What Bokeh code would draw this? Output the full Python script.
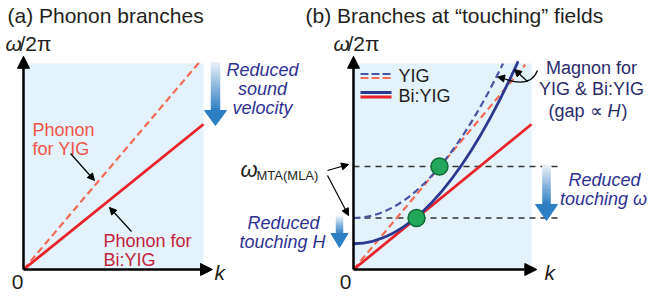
import numpy as np
from bokeh.plotting import figure
from bokeh.models import Range1d, Arrow, NormalHead
from bokeh.core.properties import value
from bokeh.embed import file_html
from bokeh.resources import INLINE

# ---------------- data (schematic units: k and omega normalised to the shaded box) ----------------
material = ["YIG", "Bi:YIG"]
phonon_velocity = [1.03, 0.705]      # slope of the phonon branch omega(k)
phonon_k_end_a = [0.98, 1.0]         # where the phonon lines end in panel (a)
phonon_k_end_b = [0.965, 1.0]        # where the phonon lines end in panel (b)
magnon_gap = [0.25, 0.125]           # magnon omega at k = 0
magnon_k_end = [0.84, 0.925]         # end point of the magnon branch
magnon_w_end = [1.0, 1.01]
touch_k = [0.483, 0.354]             # touching points (green dots)
touch_w = [0.50, 0.25]
guide_k_end = 1.17                   # horizontal dashed guide lines end
box_k = [0.0, 1.0]                   # shaded region
box_w = [0.0, 1.0]
axis_k_tip_a, axis_k_tip_b, axis_w_tip = 1.05, 1.03, 1.035

RED, RED_D = "#e8232b", "#f26b55"
BLUE, BLUE_D = "#2b3990", "#4b55a6"
NAVY = "#2e3192"
INK = "#231f20"
SHADE = "#e3f2fb"
FONT = value("Liberation Sans")

# ---------------- canvas: default ranges are layout pixels; panels use extra ranges ----------------
W, H = 650, 297
X0, Y0 = 0, 0
p = figure(width=W, height=H, x_range=Range1d(X0, X0 + W), y_range=Range1d(Y0 + H, Y0),
           output_backend="svg", toolbar_location=None, x_axis_location=None,
           y_axis_location=None, min_border=0, outline_line_color=None)
p.grid.visible = False

KA0, KA1 = 23, 203     # px of k=0 and k=1, panel (a)
KB0, KB1 = 353, 531    # px of k=0 and k=1, panel (b)
WP0, WP1 = 269, 63     # px of omega=0 and omega=1
p.extra_x_ranges = {
    "ka": Range1d((X0 - KA0) / (KA1 - KA0), (X0 + W - KA0) / (KA1 - KA0)),
    "kb": Range1d((X0 - KB0) / (KB1 - KB0), (X0 + W - KB0) / (KB1 - KB0)),
}
p.extra_y_ranges = {"w": Range1d((Y0 + H - WP0) / (WP1 - WP0), (Y0 - WP0) / (WP1 - WP0))}


def txt(x, y, s, size, color=INK, style="normal", align="left"):
    p.text(x=[x], y=[y], text=[s], text_font=FONT, text_font_size=f"{size}px",
           text_font_style=style, text_color=color, text_align=align, text_baseline="middle")


def arrow(xs, ys, xe, ye, size=7, width=1.2, **kw):
    p.add_layout(Arrow(x_start=xs, y_start=ys, x_end=xe, y_end=ye, line_width=width, line_color="black",
                       end=NormalHead(size=size, fill_color="black", line_color="black", line_width=1), **kw))


def grad_arrow(xc, y_top, y_head, y_tip, shaft_w, head_w, n=16):
    c0 = np.array([228, 237, 248])
    c1 = np.array([50, 128, 198])
    ys = np.linspace(y_top, y_head, n + 1)
    cols = ["#%02x%02x%02x" % tuple(int(v) for v in c0 + (c1 - c0) * (i / (n - 1))) for i in range(n)]
    p.quad(left=xc - shaft_w / 2, right=xc + shaft_w / 2, top=ys[:-1], bottom=ys[1:],
           fill_color=cols, line_color=cols, line_width=0.5)
    p.patch([xc - head_w / 2, xc + head_w / 2, xc], [y_head, y_head, y_tip],
            fill_color="#2c7ec5", line_color="#2c7ec5")


# ================= panel (a) =================
ra = dict(x_range_name="ka", y_range_name="w")
p.quad(left=box_k[0], right=box_k[1], bottom=box_w[0], top=box_w[1], fill_color=SHADE, line_color=None, **ra)
p.line([0, phonon_k_end_a[0]], [0, phonon_velocity[0] * phonon_k_end_a[0]], line_color=RED_D,
       line_width=2.2, line_dash="7 4", **ra)
p.line([0, phonon_k_end_a[1]], [0, phonon_velocity[1] * phonon_k_end_a[1]], line_color=RED,
       line_width=2.8, **ra)
arrow(0, 0, axis_k_tip_a, 0, size=12, width=2.5, **ra)
arrow(0, 0, 0, axis_w_tip, size=12, width=2.5, **ra)

txt(7, 15, "(a) Phonon branches", 21)
txt(5, 43, "ω", 21, style="italic")
txt(19, 43, "/2π", 21)
txt(17, 281, "0", 21, align="center")
txt(214, 272, "k", 21, style="italic")
txt(32, 129, "Phonon", 18, color="#f05549")
txt(32, 148, "for YIG", 18, color="#f05549")
txt(103, 240, "Phonon for", 18, color="#c61f3c")
txt(103, 259, "Bi:YIG", 18, color="#c61f3c")
arrow(70, 153, 94, 180)
arrow(131, 231, 109, 207)
grad_arrow(215, 62, 110, 125, 9, 22)
txt(262, 69, "Reduced", 18, color=NAVY, style="italic", align="center")
txt(262, 88, "sound", 18, color=NAVY, style="italic", align="center")
txt(262, 107, "velocity", 18, color=NAVY, style="italic", align="center")

# ================= panel (b) =================
rb = dict(x_range_name="kb", y_range_name="w")
p.quad(left=box_k[0], right=box_k[1], bottom=box_w[0], top=box_w[1], fill_color=SHADE, line_color=None, **rb)
for w in touch_w:
    p.line([0, guide_k_end], [w, w], line_color="#333333", line_width=1.5, line_dash="6 5", **rb)
p.line([0, phonon_k_end_b[0]], [0, phonon_velocity[0] * phonon_k_end_b[0]], line_color=RED_D,
       line_width=2.2, line_dash="7 4", **rb)
p.line([0, phonon_k_end_b[1]], [0, phonon_velocity[1] * phonon_k_end_b[1]], line_color=RED,
       line_width=2.8, **rb)
# magnon branches: parabolas omega = gap + D k^2 drawn as quadratic Bezier curves
p.quadratic(x0=[0], y0=[magnon_gap[0]], x1=[magnon_k_end[0]], y1=[magnon_w_end[0]],
            cx=[magnon_k_end[0] / 2], cy=[magnon_gap[0]], line_color=BLUE_D, line_width=2.2,
            line_dash="7 4", **rb)
p.quadratic(x0=[0], y0=[magnon_gap[1]], x1=[magnon_k_end[1]], y1=[magnon_w_end[1]],
            cx=[magnon_k_end[1] / 2], cy=[magnon_gap[1]], line_color=BLUE, line_width=2.8, **rb)
p.scatter(touch_k, touch_w, size=17, fill_color="#22a75b", line_color="#0e6a36", line_width=1.5, **rb)
arrow(0, 0, axis_k_tip_b, 0, size=12, width=2.5, **rb)
arrow(0, 0, 0, axis_w_tip, size=12, width=2.5, **rb)

txt(305, 15, "(b) Branches at \u201ctouching\u201d fields", 21)
txt(333, 43, "ω", 21, style="italic")
txt(347, 43, "/2π", 21)
txt(345, 281, "0", 21, align="center")
txt(544, 272, "k", 21, style="italic")

# legend
p.line([360, 391], [73.5, 73.5], line_color=BLUE_D, line_width=2.2, line_dash="8 3")
p.line([360, 391], [77.5, 77.5], line_color=RED_D, line_width=2.2, line_dash="8 3")
p.line([360, 391], [92, 92], line_color=BLUE, line_width=2.8)
p.line([360, 391], [96.5, 96.5], line_color=RED, line_width=2.8)
txt(398, 75, "YIG", 18)
txt(398, 95, "Bi:YIG", 18)

# magnon annotation
txt(591, 67, "Magnon for", 18, color="#2a2c6c", align="center")
txt(591, 88, "YIG & Bi:YIG", 18, color="#2a2c6c", align="center")
txt(548, 110, "(gap \u221d", 18, color="#2a2c6c")
txt(607, 110, "H", 18, color="#2a2c6c", style="italic")
txt(621, 110, ")", 18, color="#2a2c6c")
p.quadratic(x0=[537], y0=[70], x1=[503], y1=[78], cx=[530], cy=[88], line_color="black", line_width=1.2)
arrow(504, 78, 497, 76.5, size=7)
arrow(527, 81, 514, 69, size=7)

# omega_MTA(MLA) label
txt(240, 169, "ω", 22, style="italic")
txt(256, 175, "MTA(MLA)", 13)
arrow(327, 170, 348, 164)
arrow(327, 175, 348, 215)

# reduced touching H / omega
txt(283, 222, "Reduced", 18, color=NAVY, style="italic", align="center")
txt(282, 241, "touching H", 18, color=NAVY, style="italic", align="center")
grad_arrow(339, 216, 233, 247, 7, 17)
txt(604, 179, "Reduced", 18, color=NAVY, style="italic", align="center")
txt(603, 198, "touching ω", 18, color=NAVY, style="italic", align="center")
grad_arrow(546, 165, 204, 220, 8, 22)

open("out.html", "w").write(file_html(p, INLINE))
